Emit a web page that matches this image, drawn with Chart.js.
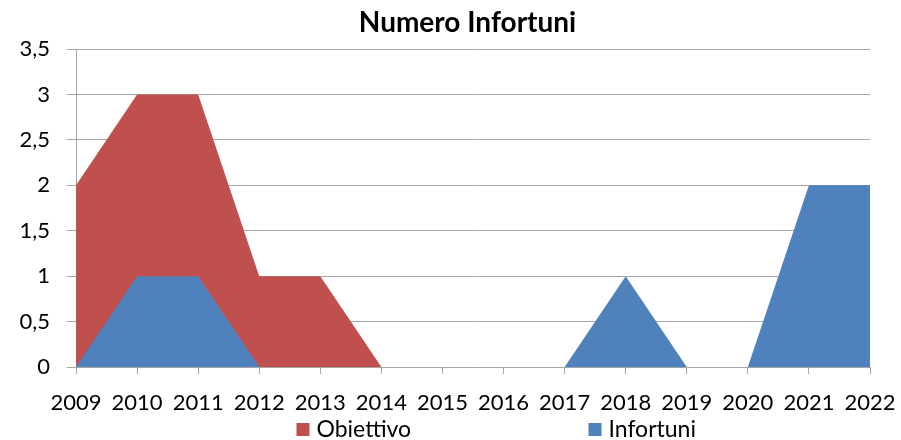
<!DOCTYPE html>
<html>
<head>
<meta charset="utf-8">
<script src="https://cdn.jsdelivr.net/npm/chart.js@4/dist/chart.umd.min.js"></script>
<style>
html,body{margin:0;padding:0;background:#fff;}
#wrap{width:901px;height:440px;position:relative;}
</style>
</head>
<body>
<div id="wrap"><canvas id="c" width="901" height="440"></canvas></div>
<script>
const chartTitle = 'Numero Infortuni';
const years = ['2009','2010','2011','2012','2013','2014','2015','2016','2017','2018','2019','2020','2021','2022'];
const obiettivo = [2, 3, 3, 1, 1, 0, 0, 0, 0, 0, 0, 0, 0, 0];
const infortuni = [0, 1, 1, 0, 0, 0, 0, 0, 0, 1, 0, 0, 2, 2];
const seriesNames = ['Obiettivo', 'Infortuni'];
const seriesColors = ['#C0504D', '#4F81BD'];

const FONT = 'Lato, "Open Sans", sans-serif';
const GRID = '#A6A6A6';

const titleLegendPlugin = {
  id: 'titleLegend',
  afterDraw(chart) {
    const ctx = chart.ctx;
    const cx = chart.width / 2;
    ctx.save();
    ctx.fillStyle = '#000';
    ctx.textBaseline = 'middle';
    ctx.textAlign = 'center';
    ctx.font = 'bold 28px ' + FONT;
    ctx.fillText(chartTitle, cx + 17, 23);
    // legend
    const boxX = [cx - 154, cx + 138];
    ctx.font = '23px ' + FONT;
    ctx.textAlign = 'left';
    for (let i = 0; i < seriesNames.length; i++) {
      ctx.fillStyle = seriesColors[i];
      ctx.fillRect(boxX[i], 423, 13, 13);
      ctx.fillStyle = '#000';
      ctx.fillText(seriesNames[i], boxX[i] + 20, 430);
    }
    ctx.restore();
  }
};

new Chart(document.getElementById('c'), {
  type: 'line',
  data: {
    labels: years,
    datasets: [
      {
        label: seriesNames[1],
        data: infortuni,
        backgroundColor: seriesColors[1],
        borderColor: seriesColors[1],
        borderWidth: 0,
        pointRadius: 0,
        fill: 'origin',
        tension: 0
      },
      {
        label: seriesNames[0],
        data: obiettivo,
        backgroundColor: seriesColors[0],
        borderColor: seriesColors[0],
        borderWidth: 0,
        pointRadius: 0,
        fill: 'origin',
        tension: 0
      }
    ]
  },
  options: {
    responsive: false,
    animation: false,
    devicePixelRatio: 1,
    layout: { padding: { top: 49, right: 31, bottom: 23, left: 0 } },
    plugins: {
      legend: { display: false },
      title: { display: false },
      tooltip: { enabled: false }
    },
    scales: {
      x: {
        type: 'category',
        offset: false,
        grid: { display: true, drawOnChartArea: false, drawTicks: true, tickLength: 7, color: GRID },
        border: { display: true, color: GRID },
        ticks: { color: '#000', font: { family: FONT, size: 22 }, padding: 16, maxRotation: 0, autoSkip: false },
        afterFit(s) { s.height = 50; s.paddingLeft = 0; s.paddingRight = 0; }
      },
      y: {
        min: 0,
        max: 3.5,
        stacked: false,
        grid: { color: GRID, tickLength: 9 },
        border: { display: true, color: GRID },
        ticks: {
          stepSize: 0.5,
          color: '#000',
          font: { family: FONT, size: 22 },
          padding: 17,
          callback: v => String(v).replace('.', ',')
        },
        afterFit(s) { s.width = 76; s.paddingTop = 0; s.paddingBottom = 0; }
      }
    }
  },
  plugins: [titleLegendPlugin]
});
</script>
</body>
</html>
